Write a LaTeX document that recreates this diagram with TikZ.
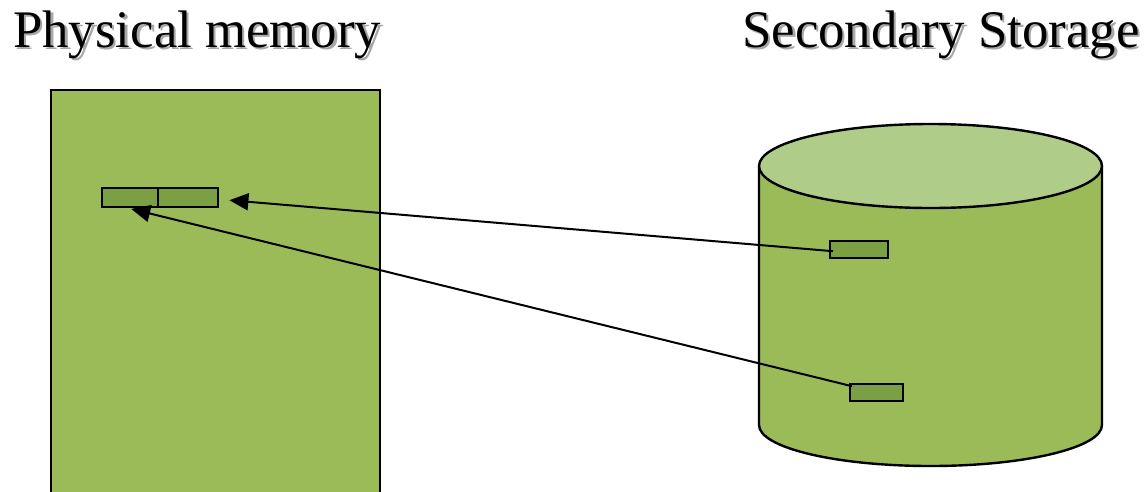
\documentclass[tikz,border=0pt]{standalone}
\usepackage{fontspec}
\setmainfont{Liberation Serif}
\usetikzlibrary{arrows.meta,calc}
\definecolor{leaf}{HTML}{9BBB59}
\definecolor{leaflight}{HTML}{AFCD89}
\definecolor{leafdark}{HTML}{7AA043}
\definecolor{shade}{HTML}{A8A8A8}
% heading text with a grey drop shadow behind it
\newcommand{\dropshadowed}[1]{\rlap{\kern2.5pt\raisebox{-2.5pt}{\textcolor{shade}{#1}}}#1}
\tikzset{
  title/.style={anchor=base west, inner sep=0pt, font=\fontsize{52.8}{58}\selectfont},
  memrect/.style={draw=black, line width=2.4pt, fill=leaf, anchor=north west, inner sep=0pt},
  pagebox/.style={draw=black, line width=2.4pt, fill=leafdark, anchor=north west, inner sep=0pt, minimum height=19pt},
  blockbox/.style={draw=black, line width=2.4pt, fill=leafdark, anchor=north west, inner sep=0pt, minimum height=17pt},
  fetch/.style={line width=2pt, -{Triangle[length=19pt,width=17pt]}},
  outline/.style={draw=black, line width=2.4pt}
}
\begin{document}
\begin{tikzpicture}[x=1pt, y=-1pt]
\useasboundingbox (0,0) rectangle (1144,491);

% headings
\node[title] (memtitle) at (13,47) {\dropshadowed{Physical memory}};
\node[title] (disktitle) at (742,47) {\dropshadowed{Secondary Storage}};

% physical memory block (runs off the lower edge)
\node[memrect, minimum width=329.5pt, minimum height=420pt] (mem) at (49.5,88.5) {};
\node[pagebox, minimum width=56pt] (pageA) at (101,187) {};
\node[pagebox, minimum width=60pt] (pageB) at (157,187) {};

% secondary storage drum
\coordinate (topc) at (930.5,166);
\coordinate (botc) at (930.5,425);
\fill[leaf] (759,166) -- (759,425)
  arc[start angle=180, end angle=360, x radius=171.5pt, y radius=41pt]
  -- (1102,166) -- cycle;
\draw[outline] (759,166) -- (759,425)
  arc[start angle=180, end angle=360, x radius=171.5pt, y radius=41pt]
  -- (1102,166);
\draw[outline, fill=leaflight] (topc) ellipse [x radius=171.5pt, y radius=42pt];

\node[blockbox, minimum width=58pt] (blk1) at (829,240) {};
\node[blockbox, minimum width=53pt] (blk2) at (849,383) {};

% pages brought into memory
\draw[fetch] ([shift={(4,1.5)}]blk1.west) -- ([shift={(10,2.5)}]pageB.east);
\draw[fetch] ([shift={(3,-6.5)}]blk2.west) -- ([shift={(1,0.5)}]pageA.south);
\end{tikzpicture}
\end{document}
